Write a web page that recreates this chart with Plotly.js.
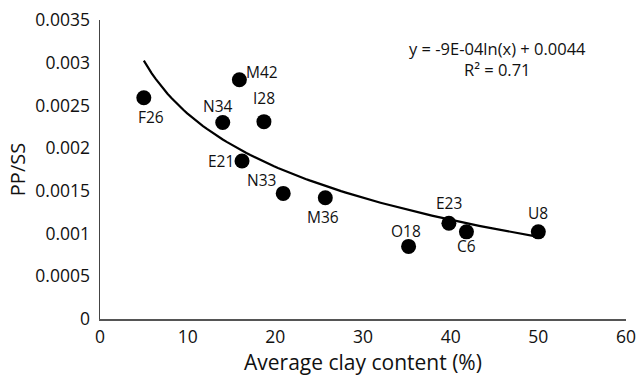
<!DOCTYPE html>
<html>
<head>
<meta charset="utf-8">
<script src="https://cdn.plot.ly/plotly-3.0.1.min.js"></script>
<style>html,body{margin:0;padding:0;background:#fff;}#chart{width:638px;height:376px;}</style>
</head>
<body>
<div id="chart"></div>
<script>
// Sample sites
const sites = ["F26", "M42", "N34", "I28", "E21", "N33", "M36", "O18", "E23", "C6", "U8"];
// Average clay content (%)
const clay = [5.0, 15.9, 14.0, 18.7, 16.2, 20.9, 25.7, 35.2, 39.8, 41.8, 50.0];
// PP/SS ratio
const ppss = [0.00259, 0.00280, 0.00230, 0.00231, 0.00185, 0.00147, 0.00142, 0.00085, 0.00112, 0.00102, 0.00102];
// Label offsets from each point (pixels)
const labelDx = [7, 23, -5, 0, -21, -22, -2, -3, 0, 0, 0];
const labelDy = [-19, 8, 17, 24, 0, 13, -19, 15, 20, -14, 19];
const xTicks = [0, 10, 20, 30, 40, 50, 60];
const yTicks = [0, 0.0005, 0.001, 0.0015, 0.002, 0.0025, 0.003, 0.0035];
const yTickText = ["0", "0.0005", "0.001", "0.0015", "0.002", "0.0025", "0.003", "0.0035"];
const equationText = "y = -9E-04ln(x) + 0.0044<br>R² = 0.71";

// Logarithmic least-squares trendline fitted to the data: y = a ln(x) + b
const lx = clay.map(Math.log);
const n = clay.length;
const mx = lx.reduce((s, v) => s + v, 0) / n;
const my = ppss.reduce((s, v) => s + v, 0) / n;
let sxy = 0, sxx = 0;
for (let i = 0; i < n; i++) { sxy += (lx[i] - mx) * (ppss[i] - my); sxx += (lx[i] - mx) ** 2; }
const a = sxy / sxx, b = my - a * mx;
const xmin = Math.min(...clay), xmax = Math.max(...clay);
const tx = [], ty = [];
for (let k = 0; k <= 100; k++) {
  const x = xmin + (xmax - xmin) * k / 100;
  tx.push(x); ty.push(a * Math.log(x) + b);
}

const font = "Open Sans, Lato, sans-serif";
const textColor = "#111";
const data = [
  {x: tx, y: ty, mode: "lines", type: "scatter", line: {color: "#000", width: 2.2}, hoverinfo: "skip"},
  {x: clay, y: ppss, mode: "markers", type: "scatter", marker: {color: "#000", size: 15}}
];
const labels = sites.map((s, i) => ({
  x: clay[i], y: ppss[i], xref: "x", yref: "y", text: s, showarrow: false,
  xshift: labelDx[i], yshift: labelDy[i], xanchor: "center", yanchor: "middle",
  font: {family: font, size: 15.5, color: textColor}
}));
const layout = {
  width: 638, height: 376, showlegend: false,
  margin: {l: 100, r: 12, t: 20, b: 57},
  paper_bgcolor: "#fff", plot_bgcolor: "#fff",
  font: {family: font, color: textColor},
  xaxis: {range: [0, 60], tickvals: xTicks, ticktext: xTicks.map(String), showgrid: false, zeroline: false,
          showline: true, linecolor: "#555", linewidth: 1.5, ticks: "", ticklabelstandoff: 1,
          tickfont: {size: 17.5, color: textColor},
          title: {text: "Average clay content (%)", font: {size: 21, color: textColor}, standoff: 16}},
  yaxis: {range: [0, 0.0035], tickvals: yTicks, ticktext: yTickText, showgrid: false, zeroline: false,
          showline: true, linecolor: "#444", linewidth: 1.5, ticks: "", ticklabelstandoff: 5,
          tickfont: {size: 17.5, color: textColor},
          title: {text: "PP/SS", font: {size: 20, color: textColor}, standoff: 4}},
  annotations: [{xref: "paper", yref: "paper", x: 0.755, y: 0.87, xanchor: "center", yanchor: "middle",
                 text: equationText, showarrow: false, align: "center",
                 font: {family: font, size: 16.5, color: textColor}}].concat(labels)
};
Plotly.newPlot("chart", data, layout, {displayModeBar: false, staticPlot: true});
</script>
</body>
</html>
